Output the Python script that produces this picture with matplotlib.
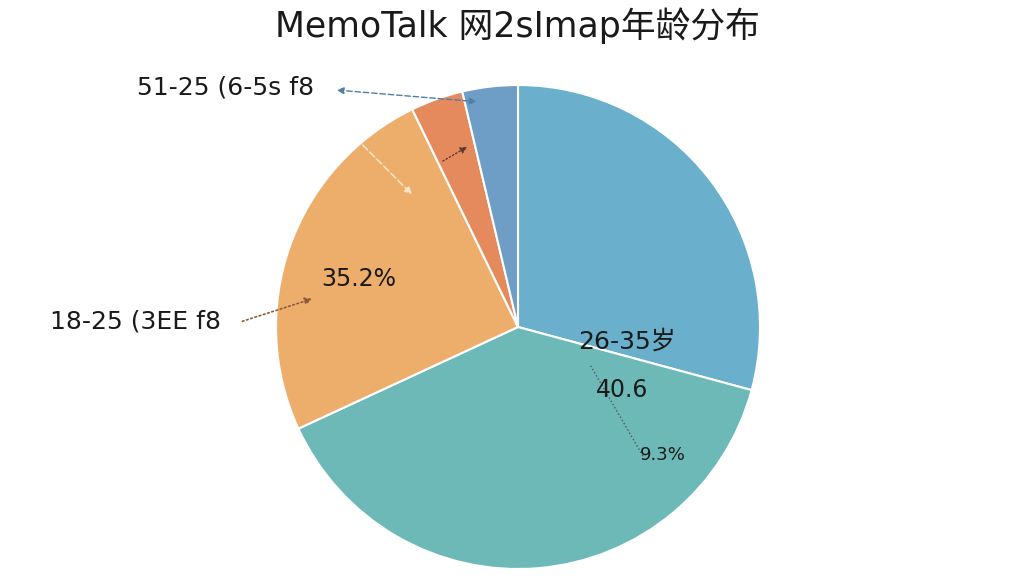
import matplotlib
matplotlib.use("Agg")
import matplotlib.pyplot as plt

plt.rcParams["font.family"] = ["DejaVu Sans", "Noto Sans CJK SC"]

# slices, clockwise from 12 o'clock
groups = ["26-35岁", "36-50岁", "18-25岁", "51-60岁", "60岁以上"]
shares = [29.2, 38.9, 24.7, 3.5, 3.7]
colors = ["#6aafcb", "#6db9b7", "#eeae6b", "#e58a5c", "#6e9dc5"]

title = "MemoTalk 网2sImap年龄分布"
label_top = "51-25 (6-5s f8"
label_left = "18-25 (3EE f8"
pct_orange = "35.2%"
label_blue = "26-35岁"
pct_blue = "40.6"
pct_teal = "9.3%"

fig = plt.figure(figsize=(10.24, 5.76), dpi=100)
fig.text(0.505, 0.955, title, ha="center", va="center", fontsize=25,
         family=["DejaVu Sans", "Noto Sans CJK SC"], color="#1a1a1a")

# pie centre ~ (518, 327) px, radius ~ 242 px
ax = fig.add_axes([(518 - 242) / 1024, (576 - 327 - 242) / 576, 484 / 1024, 484 / 576])
ax.pie(shares, colors=colors, startangle=90, counterclock=False,
       wedgeprops=dict(edgecolor="white", linewidth=1.5))
ax.set_xlim(-1, 1)
ax.set_ylim(-1, 1)
ax.set_aspect("equal")
ax.axis("off")

# inner texts
ax.text(0.45, -0.06, label_blue, ha="center", va="center", fontsize=18, color="#1a1a1a")
ax.text(0.43, -0.26, pct_blue, ha="center", va="center", fontsize=17, color="#1a1a1a")
ax.text(0.6, -0.53, pct_teal, ha="center", va="center", fontsize=13, color="#1a1a1a")
ax.text(-0.66, 0.2, pct_orange, ha="center", va="center", fontsize=17, color="#1a1a1a")

# outside labels
fig.text(137 / 1024, 1 - 88 / 576, label_top, ha="left", va="center", fontsize=18, color="#1a1a1a")
fig.text(50 / 1024, 1 - 322 / 576, label_left, ha="left", va="center", fontsize=18, color="#1a1a1a")

# arrows
ax.annotate("", xy=(-0.16, 0.93), xytext=(-0.76, 0.98),
            arrowprops=dict(arrowstyle="<|-|>", linestyle=(0, (4, 2)), color="#4f7fa3", lw=1))
ax.annotate("", xy=(-0.2, 0.75), xytext=(-0.32, 0.68),
            arrowprops=dict(arrowstyle="-|>", linestyle=":", color="#5a3a2a", lw=1))
ax.annotate("", xy=(-0.43, 0.54), xytext=(-0.65, 0.76),
            arrowprops=dict(arrowstyle="-|>", linestyle=(0, (4, 2)), color="#f4e6c8", lw=1.2))
ax.annotate("", xy=(-0.84, 0.12), xytext=(-1.15, 0.02),
            arrowprops=dict(arrowstyle="-|>", linestyle=":", color="#8a5a3a", lw=1.2))
ax.plot([0.3, 0.52], [-0.16, -0.54], linestyle=":", color="#555555", lw=1)

fig.savefig("out.png", dpi=100, facecolor="white")
